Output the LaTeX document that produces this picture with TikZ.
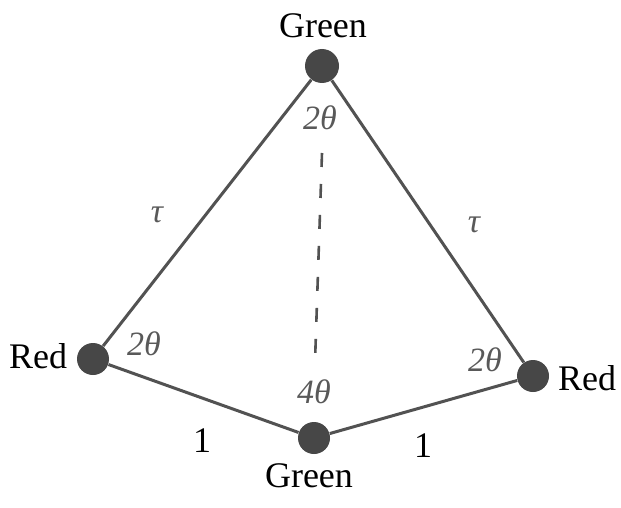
\documentclass[tikz,border=0pt]{standalone}
\usepackage{fontspec}
\setmainfont{Liberation Serif}
\begin{document}
\begin{tikzpicture}[x=0.5pt,y=-0.5pt]
            \tikzset{
                vertex/.style={circle,fill=black!72,inner sep=0pt,minimum size=16pt},
                edge/.style={line width=1.5pt,black!68},
                angle/.style={text=black!65,font=\fontsize{17}{19}\selectfont\itshape},
                colour/.style={font=\fontsize{18}{20}\selectfont}
            }
            \useasboundingbox (0,0) rectangle (621,508);
            \node[vertex,minimum size=17pt] (gtop) at (322,66) {};
            \node[vertex] (rleft) at (93,359) {};
            \node[vertex] (rright) at (533,376) {};
            \node[vertex] (gbot) at (314,438) {};
            \draw[edge] (gtop)--(rleft);
            \draw[edge] (gtop)--(rright);
            \draw[edge] (rleft)--(gbot);
            \draw[edge] (gbot)--(rright);
            \coordinate (dtop) at (322,153);
            \coordinate (dbot) at (315,362);
            \draw[edge,line width=1.3pt,dash pattern=on 7pt off 8.5pt]
                (dtop)--(dbot);
            \node[colour] (ngtop) at (323,26) {Green};
            \node[colour] (ngbot) at (309,476) {Green};
            \node[colour] (nrleft) at (38,356) {Red};
            \node[colour] (nrright) at (587,378) {Red};
            \node[angle] (atop) at (320,118) {2θ};
            \node[angle] (aleft) at (144,344) {2θ};
            \node[angle] (aright) at (485,360) {2θ};
            \node[angle] (abot) at (314,392) {4θ};
            \node[angle] (tleft) at (157,215) {τ};
            \node[angle] (tright) at (474,225) {τ};
            \node[colour] (oleft) at (202,441) {1};
            \node[colour] (oright) at (423,446) {1};
            \end{tikzpicture}
\end{document}
